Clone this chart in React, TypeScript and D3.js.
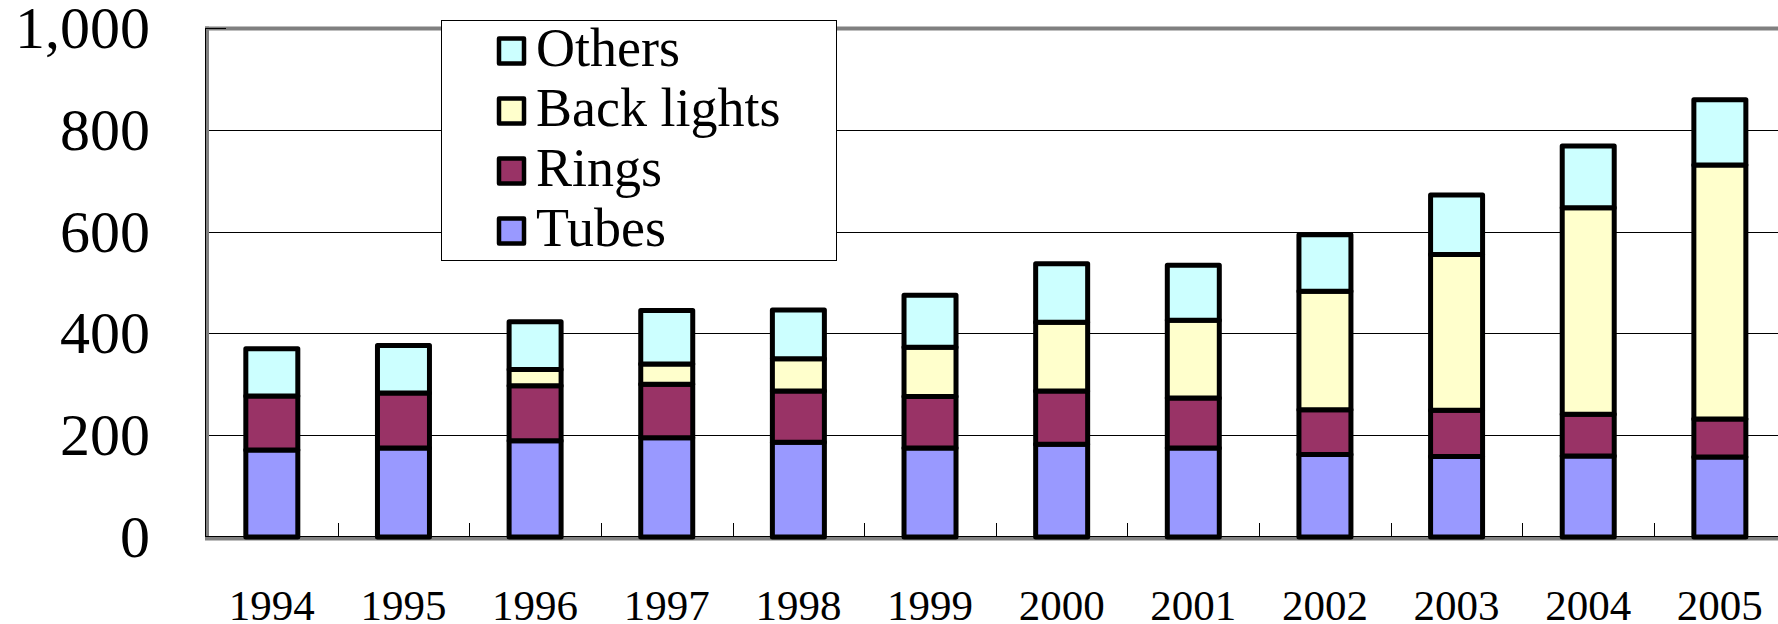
import React from "react";
import * as d3 from "d3";

// Annual production by product group, 1994–2005
const years = ["1994", "1995", "1996", "1997", "1998", "1999", "2000", "2001", "2002", "2003", "2004", "2005"];
const tubes = [171, 175, 189, 195, 186, 175, 182, 175, 162, 158, 159, 157];
const rings = [106, 108, 108, 105, 101, 101, 105, 98, 88, 91, 82, 75];
const backLights = [0, 0, 32, 40, 63, 97, 135, 153, 233, 306, 406, 499];
const others = [93, 93, 94, 105, 96, 102, 115, 108, 111, 117, 121, 128];

const seriesKeys = ["Tubes", "Rings", "Back lights", "Others"];
const seriesColors = ["#9999FF", "#993366", "#FFFFCC", "#CCFFFF"];
const yTicks = [0, 200, 400, 600, 800, 1000];
const legendOrder = ["Others", "Back lights", "Rings", "Tubes"];

const W = 1778;
const H = 624;
const plotLeft = 206;
const band = 131.64;
const plotTop = 28;
const plotBottom = 537;
const font = "'Liberation Serif', 'Times New Roman', serif";

export default function App() {
  const rows = years.map((y, i) => ({
    year: y,
    Tubes: tubes[i],
    Rings: rings[i],
    "Back lights": backLights[i],
    Others: others[i],
  }));
  const stacked = d3.stack<any>().keys(seriesKeys)(rows);

  const x = d3
    .scaleBand<string>()
    .domain(years)
    .range([plotLeft, plotLeft + band * years.length])
    .paddingInner(0)
    .paddingOuter(0);
  const y = d3.scaleLinear().domain([0, 1000]).range([plotBottom, plotTop]);
  const color = d3.scaleOrdinal<string, string>().domain(seriesKeys).range(seriesColors);

  const barW = x.bandwidth() * 0.395;
  const fmt = d3.format(",");

  return (
    <svg
      width={W}
      height={H}
      style={{ position: "absolute", left: 0, top: 0, background: "#fff" }}
      fontFamily={font}
    >
      <rect x={0} y={0} width={W} height={H} fill="#fff" />

      {/* horizontal gridlines */}
      {yTicks
        .filter((t) => t > 0 && t < 1000)
        .map((t) => (
          <line key={t} x1={205} x2={W} y1={Math.round(y(t)) + 0.5} y2={Math.round(y(t)) + 0.5} stroke="#000" strokeWidth={1} />
        ))}

      {/* plot frame */}
      <line x1={205} x2={W} y1={y(1000) + 0.5} y2={y(1000) + 0.5} stroke="#808080" strokeWidth={4} />
      <line x1={207} x2={207} y1={y(1000) - 1.5} y2={plotBottom + 3} stroke="#808080" strokeWidth={4} />
      <line x1={205} x2={W} y1={plotBottom + 1.5} y2={plotBottom + 1.5} stroke="#808080" strokeWidth={4} />
      <line x1={205.5} x2={205.5} y1={y(1000)} y2={plotBottom} stroke="#000" strokeWidth={1} />
      <line x1={205} x2={226} y1={y(1000) + 0.5} y2={y(1000) + 0.5} stroke="#000" strokeWidth={1} />
      <line x1={205} x2={W} y1={plotBottom - 0.5} y2={plotBottom - 0.5} stroke="#000" strokeWidth={1} />

      {/* category ticks */}
      {years.slice(1).map((yr) => (
        <line
          key={"t" + yr}
          x1={Math.round(x(yr)!) + 0.5}
          x2={Math.round(x(yr)!) + 0.5}
          y1={plotBottom}
          y2={plotBottom - 14}
          stroke="#000"
          strokeWidth={1}
        />
      ))}

      {/* stacked bars */}
      {stacked.map((layer) => (
        <g key={layer.key} fill={color(layer.key)}>
          {layer.map((d, i) => {
            const h = y(d[0]) - y(d[1]);
            if (h <= 0) return null;
            const cx = x(years[i])! + x.bandwidth() / 2;
            return (
              <rect
                key={years[i]}
                x={cx - barW / 2}
                y={y(d[1])}
                width={barW}
                height={h}
                stroke="#000"
                strokeWidth={5}
                strokeLinejoin="round"
              />
            );
          })}
        </g>
      ))}

      {/* y-axis labels */}
      {yTicks.map((t) => (
        <text key={"y" + t} x={150} y={y(t) + 20} textAnchor="end" fontSize={60} fill="#000">
          {fmt(t)}
        </text>
      ))}

      {/* x-axis labels */}
      {years.map((yr) => (
        <text key={"x" + yr} x={x(yr)! + x.bandwidth() / 2} y={620} textAnchor="middle" fontSize={43} fill="#000">
          {yr}
        </text>
      ))}

      {/* legend */}
      <g>
        <rect x={441.5} y={20.5} width={395} height={240} fill="#fff" stroke="#000" strokeWidth={1} />
        {legendOrder.map((k, i) => {
          const cy = 51 + i * 60;
          return (
            <g key={"l" + k}>
              <rect
                x={499}
                y={cy - 12.5}
                width={25}
                height={25}
                fill={color(k)}
                stroke="#000"
                strokeWidth={4.5}
                strokeLinejoin="round"
              />
              <text x={536} y={cy + 15} fontSize={54} fill="#000">
                {k}
              </text>
            </g>
          );
        })}
      </g>
    </svg>
  );
}
